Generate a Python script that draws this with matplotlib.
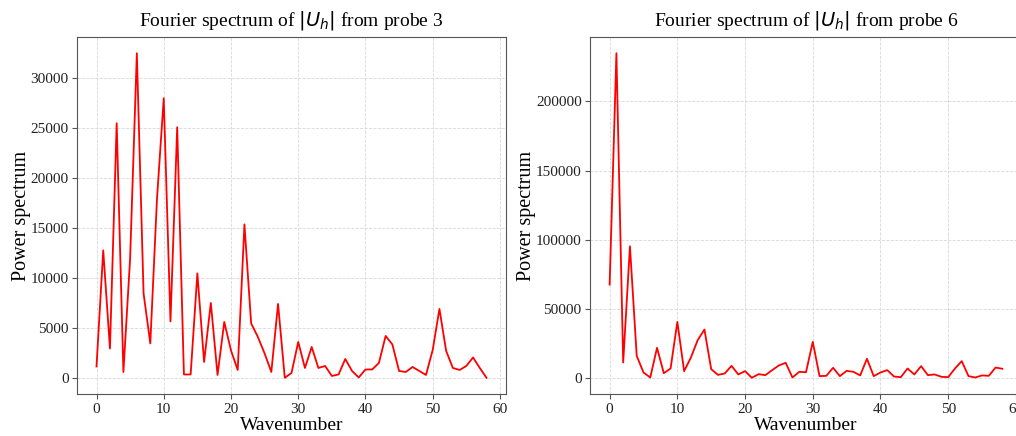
import matplotlib
matplotlib.use("Agg")
from matplotlib import pyplot as plt
import numpy as np

plt.rcParams['font.family'] = ['Liberation Serif', 'DejaVu Serif']

# wavenumbers 0..58
wavenumber = list(range(59))

# power spectrum, probe 3
power_probe3 = [1200, 12800, 3000, 25500, 650, 12000, 32500, 8500, 3500, 18000,
                28000, 5700, 25100, 400, 400, 10500, 1650, 7550, 350, 5650,
                2800, 850, 15400, 5500, 4150, 2500, 650, 7450, 70, 550,
                3650, 1050, 3150, 1050, 1250, 250, 400, 1950, 750, 100,
                900, 900, 1550, 4250, 3400, 750, 650, 1150, 750, 350,
                2850, 6950, 2750, 1050, 850, 1250, 2100, 1050, 70]

# power spectrum, probe 6
power_probe6 = [67700, 234600, 11500, 95300, 16300, 4300, 700, 22100, 3800, 7200,
                40800, 5300, 15100, 27600, 35300, 6700, 2600, 3600, 9100, 2900,
                5300, 500, 3100, 2400, 6000, 9400, 11300, 700, 4800, 4500,
                26400, 1700, 1900, 7700, 1700, 5500, 4800, 2200, 14200, 1700,
                4300, 6000, 1400, 950, 7200, 2900, 8900, 2400, 2900, 1200,
                950, 7200, 12500, 1700, 700, 2200, 1900, 7900, 7000]


def drawSpectrum(ax, x, y, probe):
    ax.plot(x, y, color='red', linewidth=1.3)
    ax.set_title(f'Fourier spectrum of $|U_h|$ from probe {probe}', fontsize=14, pad=8)
    ax.set_xlabel('Wavenumber', fontsize=14, labelpad=0.5)
    ax.set_ylabel('Power spectrum', fontsize=14.5, labelpad=0)
    ax.tick_params(labelsize=11, length=3.5, color='#555555', labelcolor='#222222')
    ax.tick_params(axis='y', pad=2.5)
    ax.tick_params(axis='x', pad=3)
    ax.grid(True, color='#d8d8d8', linestyle='--', linewidth=0.6)
    for spine in ax.spines.values():
        spine.set_color('#555555')
    ax.set_xticks(np.arange(0, 61, 10))


fig = plt.figure(figsize=(10.16, 4.36), dpi=100)
ax1 = fig.add_axes([77 / 1016, 42 / 436, 429 / 1016, 357 / 436])
ax2 = fig.add_axes([590 / 1016, 42 / 436, 432 / 1016, 357 / 436])

drawSpectrum(ax1, wavenumber, power_probe3, 3)
drawSpectrum(ax2, wavenumber, power_probe6, 6)

fig.savefig('out.png', dpi=100)
